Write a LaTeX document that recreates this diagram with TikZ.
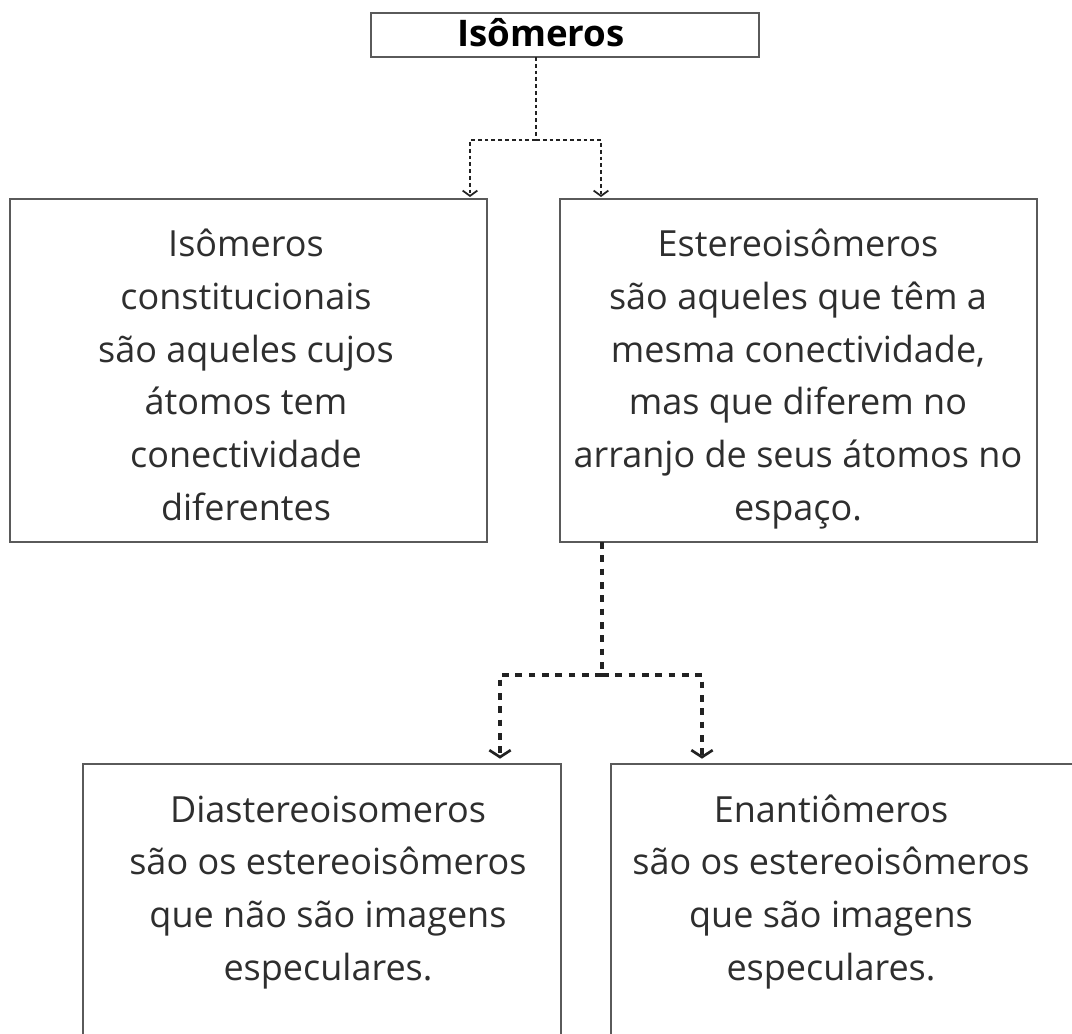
\documentclass[tikz,border=0pt]{standalone}
\usepackage{fontspec}
\setmainfont{Open Sans}
\usetikzlibrary{arrows.meta,fit}
\definecolor{txt}{HTML}{2E2E2E}
\definecolor{edgec}{HTML}{5A5A5A}
\definecolor{dotc}{HTML}{222222}
\begin{document}
\begin{tikzpicture}[x=0.75pt,y=-0.75pt,
  box/.style={draw=edgec, line width=1.9pt, inner sep=0pt, outer sep=0pt, rectangle},
  body/.style={font=\fontsize{27}{39.5}\selectfont, text=txt, align=center, inner sep=0pt, anchor=base},
  thinlink/.style={draw=dotc, line width=2.1pt, dash pattern=on 2.8pt off 2.3pt},
  thicklink/.style={draw=dotc, line width=2.7pt, dash pattern=on 5pt off 5pt},
  thintip/.style={-{Straight Barb[length=4pt,width=11pt,line width=1.3pt]}},
  thicktip/.style={-{Straight Barb[length=5.2pt,width=16pt,line width=2pt]}}
]
\clip (0,0) rectangle (1072,1034);
\fill[white] (0,0) rectangle (1072,1034);

% boxes
\node[box, fit={(371,13) (759,57)}] (top) {};
\node[box, fit={(10,199) (487,542)}] (left) {};
\node[box, fit={(560,199) (1037,542)}] (right) {};
\node[box, fit={(83,764) (561,1120)}] (bl) {};
\node[box, fit={(611,764) (1120,1120)}] (br) {};

% texts (base anchor = baseline of last line)
\node[font=\bfseries\fontsize{27.5}{33}\selectfont, text=black, anchor=base, inner sep=0pt] (tt) at (541,47) {Isômeros};
\node[body] (tl) at (246,520) {Isômeros\\constitucionais\\são aqueles cujos\\átomos tem\\conectividade\\diferentes};
\node[body] (tr) at (798,520) {Estereoisômeros\\são aqueles que têm a\\mesma conectividade,\\mas que diferem no\\arranjo de seus átomos no\\espaço.};
\node[body] (tbl) at (328,980) {Diastereoisomeros\\são os estereoisômeros\\que não são imagens\\especulares.};
\node[body] (tbr) at (831,980) {Enantiômeros\\são os estereoisômeros\\que são imagens\\especulares.};

% top connector
\coordinate (xa) at (536,0);
\coordinate (j1) at (536,140);
\coordinate (xl) at (470,0);
\coordinate (xr) at (601,0);
\draw[thinlink] (top.south -| xa) -- (j1);
\draw[thinlink, thintip, shorten >=1.5pt] (j1) -| (left.north -| xl);
\draw[thinlink, thintip, shorten >=1.5pt] (j1) -| (right.north -| xr);

% middle connector
\coordinate (xm) at (602,0);
\coordinate (j2) at (602,675);
\coordinate (xbl) at (500,0);
\coordinate (xbr) at (702,0);
\draw[thicklink] (right.south -| xm) -- (j2);
\draw[thicklink, thicktip, shorten >=4pt] (j2) -| (bl.north -| xbl);
\draw[thicklink, thicktip, shorten >=4pt] (j2) -| (br.north -| xbr);
\end{tikzpicture}
\end{document}
